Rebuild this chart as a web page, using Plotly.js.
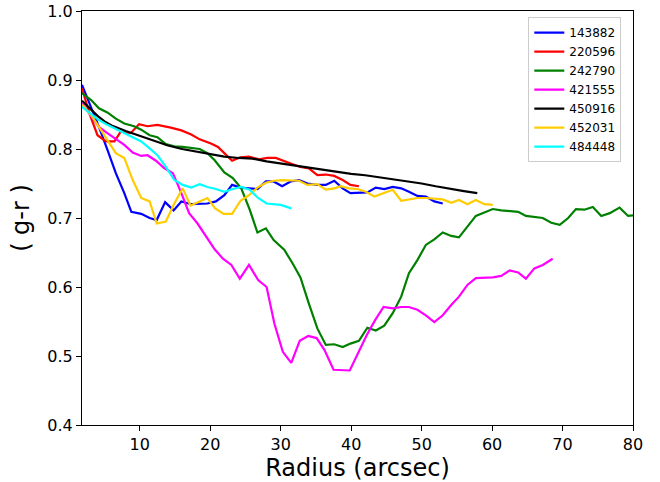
<!DOCTYPE html>
<html>
<head>
<meta charset="utf-8">
<script src="https://cdn.plot.ly/plotly-3.0.1.min.js"></script>
<style>html,body{margin:0;padding:0;background:#fff;}#chart{width:660px;height:482px;}</style>
</head>
<body>
<div id="chart"></div>
<script>
// Series names
var names = ["143882", "220596", "242790", "421555", "450916", "452031", "484448"];
var colors = ["#0000ff", "#ff0000", "#008000", "#ff00ff", "#000000", "#ffcc00", "#00ffff"];

// 143882 (blue)
var r143882 = [1.8, 3.1, 4.2, 5.4, 6.6, 7.8, 8.8, 10.2, 11.4, 12.4, 13.6, 14.8, 15.9, 17.3, 18.5, 19.6, 20.8, 22.0, 23.1, 24.3, 25.5, 26.7, 27.9, 29.0, 30.2, 31.4, 32.6, 33.8, 35.2, 36.4, 37.6, 38.8, 39.9, 41.1, 42.3, 43.5, 44.7, 45.9, 47.1, 48.2, 49.4, 50.6, 51.8, 53.0];
var c143882 = [0.893, 0.861, 0.832, 0.799, 0.765, 0.736, 0.709, 0.706, 0.700, 0.697, 0.723, 0.711, 0.724, 0.720, 0.720, 0.721, 0.724, 0.733, 0.748, 0.744, 0.743, 0.742, 0.753, 0.753, 0.746, 0.753, 0.755, 0.750, 0.748, 0.748, 0.754, 0.743, 0.736, 0.737, 0.737, 0.744, 0.742, 0.745, 0.743, 0.738, 0.732, 0.731, 0.724, 0.721];

// 220596 (red)
var r220596 = [1.8, 2.9, 4.0, 5.2, 6.4, 7.3, 8.7, 9.9, 11.1, 12.5, 14.4, 15.9, 17.3, 18.5, 20.1, 21.1, 22.0, 23.1, 24.3, 25.5, 26.9, 28.1, 29.3, 30.5, 31.7, 32.8, 34.0, 35.2, 36.4, 37.6, 38.8, 39.9, 41.1];
var c220596 = [0.888, 0.850, 0.820, 0.811, 0.811, 0.825, 0.823, 0.836, 0.833, 0.835, 0.831, 0.827, 0.821, 0.814, 0.808, 0.803, 0.794, 0.783, 0.788, 0.789, 0.785, 0.787, 0.787, 0.783, 0.778, 0.774, 0.772, 0.762, 0.763, 0.761, 0.755, 0.748, 0.746];

// 242790 (green)
var r242790 = [1.8, 3.1, 4.2, 5.4, 6.6, 7.8, 9.2, 10.2, 11.4, 12.5, 13.7, 14.9, 16.1, 17.3, 18.5, 19.6, 20.6, 22.0, 23.2, 24.4, 25.6, 26.7, 27.9, 29.0, 30.5, 31.7, 32.8, 34.0, 35.2, 36.4, 37.6, 38.8, 39.9, 41.1, 42.3, 43.5, 44.7, 45.9, 47.1, 48.2, 49.4, 50.6, 51.8, 53.0, 54.2, 55.3, 57.7, 60.1, 61.3, 63.7, 64.8, 67.2, 68.4, 69.6, 70.8, 71.9, 73.1, 74.3, 75.5, 76.7, 78.1, 79.3, 80.2];
var c242790 = [0.881, 0.871, 0.859, 0.853, 0.844, 0.837, 0.833, 0.828, 0.820, 0.817, 0.807, 0.804, 0.803, 0.801, 0.800, 0.794, 0.784, 0.766, 0.758, 0.743, 0.712, 0.679, 0.685, 0.668, 0.654, 0.634, 0.614, 0.576, 0.540, 0.516, 0.517, 0.513, 0.518, 0.522, 0.541, 0.537, 0.544, 0.562, 0.586, 0.620, 0.639, 0.661, 0.669, 0.679, 0.674, 0.672, 0.703, 0.713, 0.711, 0.709, 0.703, 0.700, 0.693, 0.690, 0.700, 0.713, 0.712, 0.716, 0.703, 0.707, 0.715, 0.703, 0.704];

// 421555 (magenta)
var r421555 = [1.8, 3.1, 4.2, 5.4, 6.6, 7.8, 9.0, 10.2, 11.1, 12.3, 13.5, 14.7, 15.9, 17.0, 18.2, 19.4, 20.6, 21.8, 23.0, 24.2, 25.5, 26.8, 28.0, 29.1, 30.3, 31.5, 32.7, 33.9, 35.1, 36.2, 37.5, 39.8, 41.0, 42.2, 43.4, 44.6, 45.9, 47.1, 48.2, 49.4, 50.6, 51.8, 53.0, 54.2, 55.3, 56.5, 57.7, 58.9, 60.1, 61.3, 62.5, 63.7, 64.8, 66.0, 67.2, 68.6];
var c421555 = [0.866, 0.847, 0.832, 0.823, 0.814, 0.806, 0.795, 0.790, 0.791, 0.783, 0.772, 0.765, 0.736, 0.707, 0.692, 0.673, 0.655, 0.641, 0.632, 0.612, 0.632, 0.610, 0.600, 0.547, 0.506, 0.490, 0.522, 0.529, 0.526, 0.509, 0.480, 0.479, 0.504, 0.530, 0.552, 0.571, 0.569, 0.571, 0.571, 0.567, 0.559, 0.549, 0.559, 0.574, 0.586, 0.603, 0.613, 0.613, 0.614, 0.616, 0.624, 0.621, 0.612, 0.627, 0.632, 0.641];

// 450916 (black)
var r450916 = [1.8, 3, 4, 5, 6, 8, 10, 12, 14, 16, 18, 20, 22, 24, 26, 28, 30, 32, 34, 36, 38, 40, 42, 44, 46, 48, 50, 52, 54, 56, 57.9];
var c450916 = [0.870, 0.858, 0.848, 0.840, 0.834, 0.826, 0.819, 0.812, 0.805, 0.800, 0.796, 0.792, 0.789, 0.787, 0.786, 0.782, 0.779, 0.775, 0.772, 0.769, 0.766, 0.764, 0.762, 0.759, 0.757, 0.754, 0.750, 0.746, 0.742, 0.739, 0.736];

// 452031 (yellow)
var r452031 = [1.8, 3.1, 4.2, 5.4, 6.6, 7.8, 9.0, 10.2, 11.4, 12.4, 13.7, 14.9, 16.1, 17.2, 18.5, 19.6, 20.7, 21.9, 23.1, 24.3, 25.5, 26.7, 27.9, 29.0, 30.2, 31.4, 32.6, 33.8, 35.2, 36.4, 37.6, 38.5, 39.7, 40.9, 42.1, 43.3, 44.5, 45.9, 47.1, 48.2, 49.4, 50.6, 51.8, 53.0, 54.2, 55.3, 56.5, 57.7, 58.9, 60.1];
var c452031 = [0.864, 0.849, 0.832, 0.813, 0.794, 0.787, 0.755, 0.729, 0.724, 0.692, 0.695, 0.721, 0.743, 0.718, 0.724, 0.729, 0.714, 0.706, 0.706, 0.725, 0.733, 0.744, 0.751, 0.754, 0.755, 0.754, 0.754, 0.748, 0.749, 0.741, 0.743, 0.746, 0.743, 0.742, 0.738, 0.731, 0.736, 0.741, 0.725, 0.727, 0.729, 0.729, 0.728, 0.727, 0.722, 0.726, 0.720, 0.726, 0.720, 0.719];

// 484448 (cyan)
var r484448 = [1.8, 3.1, 4.2, 5.4, 6.6, 7.8, 9.0, 10.2, 11.4, 12.5, 13.7, 14.9, 16.1, 17.3, 18.5, 19.6, 20.8, 22.0, 23.2, 24.4, 25.6, 26.8, 28.0, 30.0, 31.5];
var c484448 = [0.861, 0.851, 0.842, 0.835, 0.829, 0.824, 0.817, 0.811, 0.801, 0.791, 0.774, 0.755, 0.748, 0.744, 0.749, 0.745, 0.742, 0.738, 0.742, 0.745, 0.741, 0.729, 0.721, 0.719, 0.714];

// Axis ticks
var xTicks = [10, 20, 30, 40, 50, 60, 70, 80];
var yTicks = [0.4, 0.5, 0.6, 0.7, 0.8, 0.9, 1.0];

var xs = [r143882, r220596, r242790, r421555, r450916, r452031, r484448];
var ys = [c143882, c220596, c242790, c421555, c450916, c452031, c484448];

var traces = names.map(function (n, i) {
  return {
    type: 'scatter', mode: 'lines', name: n,
    x: xs[i], y: ys[i],
    line: {color: colors[i], width: 2.2},
    cliponaxis: true
  };
});

var fontFam = 'DejaVu Sans, Arial, sans-serif';
var layout = {
  width: 660, height: 482,
  margin: {l: 82, r: 27, t: 11, b: 57, pad: 0},
  paper_bgcolor: '#ffffff', plot_bgcolor: '#ffffff',
  font: {family: fontFam, size: 16, color: '#000'},
  showlegend: true,
  legend: {
    x: 0.81, y: 0.985, xanchor: 'left', yanchor: 'top',
    bgcolor: 'rgba(255,255,255,0.9)', bordercolor: '#cccccc', borderwidth: 1,
    font: {family: fontFam, size: 12, color: '#000'},
    tracegroupgap: 0, itemwidth: 30
  },
  xaxis: {
    range: [1.8, 80], tickvals: xTicks, ticktext: xTicks.map(String),
    showgrid: false, zeroline: false,
    showline: true, linecolor: '#000', linewidth: 1, mirror: true,
    ticks: 'outside', ticklen: 5, tickwidth: 1, tickcolor: '#000',
    tickfont: {family: fontFam, size: 16},
    title: {text: 'Radius (arcsec)', font: {family: fontFam, size: 24}, standoff: 4}
  },
  yaxis: {
    range: [0.4, 1.0], tickvals: yTicks, ticktext: yTicks.map(function (v) { return v.toFixed(1); }),
    showgrid: false, zeroline: false,
    showline: true, linecolor: '#000', linewidth: 1, mirror: true,
    ticks: 'outside', ticklen: 5, tickwidth: 1, tickcolor: '#000',
    tickfont: {family: fontFam, size: 16},
    title: {text: '( g-r )', font: {family: fontFam, size: 24}, standoff: 10}
  }
};

Plotly.newPlot('chart', traces, layout, {displayModeBar: false, staticPlot: true});
</script>
</body>
</html>
